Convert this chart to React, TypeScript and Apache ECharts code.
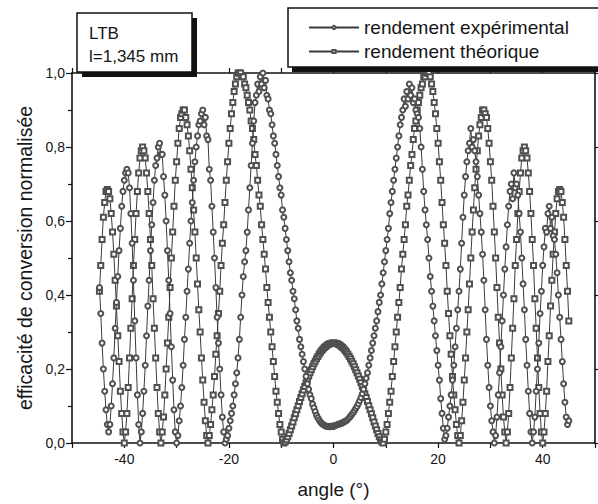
import React, { useEffect, useRef } from "react";
import * as echarts from "echarts";

// Angle grid of the scan (degrees)
const ANGLE_START = -44.75;
const ANGLE_STEP = 0.25;

// Tick labels
const xTickLabels = [-40, -20, 0, 20, 40];

// rendement expérimental (circles), from -44.75° to 45° every 0.25°
const expValues = [
  // -44.75 .. -40
  0.42, 0.35, 0.27, 0.2, 0.14, 0.09, 0.05, 0.03, 0.05, 0.1, 0.16, 0.23, 0.31, 0.38, 0.45, 0.52, 0.58, 0.64, 0.68, 0.71,
  // -39.75 .. -35
  0.73, 0.74, 0.73, 0.69, 0.62, 0.54, 0.44, 0.33, 0.23, 0.13, 0.05, 0, 0.03, 0.08, 0.14, 0.21, 0.29, 0.37, 0.44, 0.52,
  // -34.75 .. -30
  0.59, 0.65, 0.71, 0.75, 0.77, 0.8, 0.81, 0.78, 0.78, 0.72, 0.67, 0.6, 0.52, 0.44, 0.35, 0.26, 0.17, 0.09, 0.03, 0,
  // -29.75 .. -25
  0.02, 0.06, 0.1, 0.15, 0.21, 0.28, 0.34, 0.41, 0.47, 0.54, 0.6, 0.65, 0.71, 0.76, 0.8, 0.83, 0.86, 0.87, 0.89, 0.9,
  // -24.75 .. -20.75
  0.86, 0.88, 0.83, 0.82, 0.74, 0.71, 0.64, 0.57, 0.5, 0.42, 0.34, 0.27, 0.2, 0.13, 0.07, 0.03, 0,
  // -20.5 .. -15
  0.01, 0.02, 0.04, 0.06, 0.08, 0.1, 0.13, 0.16, 0.19, 0.23, 0.28, 0.34, 0.4, 0.45, 0.49, 0.52, 0.57, 0.63, 0.69, 0.75, 0.81, 0.87, 0.92,
  // -14.75 .. -10
  0.94, 0.97, 0.95, 0.99, 0.97, 1.0, 0.96, 0.98, 0.94, 0.93, 0.9, 0.89, 0.86, 0.83, 0.81, 0.78, 0.75, 0.72, 0.69, 0.67,
  // -9.75 .. -5
  0.63, 0.61, 0.58, 0.55, 0.52, 0.49, 0.46, 0.44, 0.41, 0.39, 0.36, 0.33, 0.31, 0.28, 0.26, 0.24, 0.22, 0.2, 0.18, 0.16,
  // -4.75 .. 0
  0.145, 0.13, 0.12, 0.105, 0.095, 0.085, 0.075, 0.068, 0.062, 0.057, 0.053, 0.05, 0.048, 0.046, 0.045, 0.045, 0.044, 0.045, 0.046, 0.045,
  // 0.25 .. 5
  0.047, 0.048, 0.05, 0.051, 0.052, 0.053, 0.055, 0.057, 0.059, 0.061, 0.064, 0.068, 0.072, 0.077, 0.082, 0.087, 0.093, 0.099, 0.106, 0.114,
  // 5.25 .. 10
  0.123, 0.133, 0.145, 0.16, 0.175, 0.19, 0.21, 0.23, 0.25, 0.27, 0.29, 0.31, 0.33, 0.355, 0.38, 0.4, 0.43, 0.46, 0.49, 0.52,
  // 10.25 .. 15
  0.55, 0.58, 0.62, 0.65, 0.68, 0.71, 0.74, 0.77, 0.8, 0.83, 0.86, 0.88, 0.9, 0.93, 0.91, 0.95, 0.93, 0.97, 0.94, 0.96,
  // 15.25 .. 20
  0.92, 0.93, 0.9, 0.89, 0.88, 0.85, 0.8, 0.74, 0.68, 0.63, 0.59, 0.55, 0.5, 0.45, 0.41, 0.37, 0.33, 0.29, 0.25, 0.21,
  // 20.25 .. 25
  0.17, 0.12, 0.08, 0.04, 0.01, 0.02, 0.04, 0.07, 0.1, 0.13, 0.17, 0.21, 0.26, 0.31, 0.36, 0.41, 0.47, 0.54, 0.61, 0.67,
  // 25.25 .. 30
  0.72, 0.76, 0.79, 0.81, 0.85, 0.8, 0.82, 0.79, 0.76, 0.72, 0.67, 0.62, 0.57, 0.51, 0.44, 0.36, 0.28, 0.21, 0.15, 0.1,
  // 30.25 .. 35
  0.06, 0.03, 0, 0.02, 0.07, 0.13, 0.19, 0.26, 0.33, 0.4, 0.47, 0.53, 0.59, 0.64, 0.68, 0.7, 0.66, 0.73, 0.69, 0.7,
  // 35.25 .. 40
  0.67, 0.62, 0.57, 0.5, 0.43, 0.36, 0.28, 0.21, 0.14, 0.08, 0.03, 0, 0.03, 0.07, 0.14, 0.2, 0.27, 0.35, 0.41, 0.48,
  // 40.25 .. 45
  0.53, 0.58, 0.57, 0.62, 0.64, 0.58, 0.61, 0.56, 0.55, 0.51, 0.46, 0.4, 0.34, 0.28, 0.22, 0.16, 0.11, 0.07, 0.05, 0.06,
];

// rendement théorique (squares), from -44.75° to 45° every 0.25°
const theoValues = [
  // -44.75 .. -40
  0.41, 0.48, 0.55, 0.61, 0.65, 0.68, 0.685, 0.68, 0.66, 0.62, 0.57, 0.51, 0.44, 0.37, 0.29, 0.22, 0.14, 0.08, 0.03, 0,
  // -39.75 .. -35
  0.03, 0.08, 0.15, 0.23, 0.31, 0.39, 0.48, 0.55, 0.62, 0.68, 0.73, 0.77, 0.79, 0.8, 0.79, 0.77, 0.73, 0.68, 0.62, 0.55,
  // -34.75 .. -30
  0.48, 0.39, 0.31, 0.23, 0.15, 0.08, 0.03, 0, 0.03, 0.07, 0.13, 0.2, 0.27, 0.34, 0.42, 0.5, 0.57, 0.64, 0.71, 0.76,
  // -29.75 .. -25
  0.81, 0.85, 0.88, 0.89, 0.9, 0.9, 0.88, 0.86, 0.83, 0.79, 0.74, 0.69, 0.63, 0.57, 0.5, 0.43, 0.36, 0.3, 0.23, 0.17,
  // -24.75 .. -20
  0.11, 0.06, 0.02, 0, 0.02, 0.05, 0.09, 0.13, 0.18, 0.24, 0.29, 0.35, 0.41, 0.48, 0.54, 0.59, 0.65, 0.71, 0.76, 0.81,
  // -19.75 .. -15
  0.85, 0.89, 0.92, 0.95, 0.97, 0.99, 1, 1, 1, 0.99, 0.99, 0.97, 0.96, 0.94, 0.92, 0.9, 0.87, 0.85, 0.82, 0.78,
  // -14.75 .. -10
  0.75, 0.71, 0.67, 0.64, 0.59, 0.55, 0.51, 0.47, 0.42, 0.38, 0.34, 0.3, 0.26, 0.22, 0.18, 0.14, 0.11, 0.08, 0.05, 0.03,
  // -9.75 .. -5
  0.01, 0, 0.003, 0.009, 0.017, 0.026, 0.036, 0.046, 0.057, 0.068, 0.079, 0.09, 0.101, 0.112, 0.123, 0.133, 0.143, 0.153, 0.163, 0.172,
  // -4.75 .. -0.25
  0.181, 0.19, 0.198, 0.206, 0.214, 0.221, 0.228, 0.234, 0.24, 0.245, 0.25, 0.254, 0.258, 0.261, 0.264, 0.266, 0.268, 0.269, 0.27,
  // 0 .. 4.75
  0.27, 0.27, 0.269, 0.268, 0.266, 0.264, 0.261, 0.258, 0.254, 0.25, 0.245, 0.24, 0.234, 0.228, 0.221, 0.214, 0.206, 0.198, 0.19, 0.181,
  // 5 .. 9.75
  0.172, 0.163, 0.153, 0.143, 0.133, 0.123, 0.112, 0.101, 0.09, 0.079, 0.068, 0.057, 0.046, 0.036, 0.026, 0.017, 0.009, 0.003, 0, 0.01,
  // 10 .. 14.75
  0.03, 0.05, 0.08, 0.11, 0.14, 0.18, 0.22, 0.26, 0.3, 0.34, 0.38, 0.42, 0.47, 0.51, 0.55, 0.59, 0.64, 0.67, 0.71, 0.75,
  // 15 .. 19.75
  0.78, 0.82, 0.85, 0.87, 0.9, 0.92, 0.94, 0.96, 0.97, 0.99, 0.99, 1, 1, 1, 0.99, 0.97, 0.95, 0.92, 0.89, 0.85,
  // 20 .. 24.75
  0.81, 0.76, 0.71, 0.65, 0.59, 0.54, 0.48, 0.41, 0.35, 0.29, 0.24, 0.18, 0.13, 0.09, 0.05, 0.02, 0, 0.02, 0.06, 0.11,
  // 25 .. 29.75
  0.17, 0.23, 0.3, 0.36, 0.43, 0.5, 0.57, 0.63, 0.69, 0.74, 0.79, 0.83, 0.86, 0.88, 0.9, 0.9, 0.89, 0.88, 0.85, 0.81,
  // 30 .. 34.75
  0.76, 0.71, 0.64, 0.57, 0.5, 0.42, 0.34, 0.27, 0.2, 0.13, 0.07, 0.03, 0, 0.03, 0.08, 0.15, 0.23, 0.31, 0.39, 0.48,
  // 35 .. 39.75
  0.55, 0.62, 0.68, 0.73, 0.77, 0.79, 0.8, 0.79, 0.77, 0.73, 0.68, 0.62, 0.55, 0.48, 0.39, 0.31, 0.23, 0.15, 0.08, 0.03,
  // 40 .. 44.75
  0, 0.03, 0.08, 0.14, 0.22, 0.29, 0.37, 0.44, 0.51, 0.57, 0.62, 0.66, 0.68, 0.685, 0.68, 0.65, 0.61, 0.55, 0.48, 0.41,
  // 45
  0.33,
];

const EXP_NAME = "rendement expérimental";
const THEO_NAME = "rendement théorique";
const INFO_LINES = ["LTB", "l=1,345 mm"];

const FONT = "'Liberation Sans', Arial, sans-serif";
const INK = "#161616";
const MARK = "#505050";

const toPairs = (vals: number[]) => vals.map((v, i) => [ANGLE_START + i * ANGLE_STEP, v]);

export default function App() {
  const ref = useRef<HTMLDivElement | null>(null);
  useEffect(() => {
    if (!ref.current) return;
    const chart = echarts.init(ref.current, undefined, { renderer: "svg" });
    const axisLine = { show: true, onZero: false, lineStyle: { color: "#111", width: 1.6 } };
    const tickStyle = { color: "#111", width: 1.2 };
    chart.setOption({
      animation: false,
      backgroundColor: "#fff",
      textStyle: { fontFamily: FONT },
      grid: { left: 72, top: 73, right: 1, bottom: 59, containLabel: false },
      legend: {
        data: [EXP_NAME, THEO_NAME],
        orient: "vertical",
        left: 308,
        top: 18,
        padding: 0,
        itemWidth: 50,
        itemHeight: 4,
        itemGap: 5,
        textStyle: { fontSize: 19, color: INK, fontFamily: FONT, lineHeight: 19 },
        z: 20,
      },
      xAxis: [
        {
          type: "value",
          position: "bottom",
          min: -50,
          max: 50,
          interval: 10,
          axisLine,
          axisTick: { show: true, inside: false, length: 5, lineStyle: tickStyle },
          axisLabel: {
            fontSize: 14,
            color: INK,
            margin: 9,
            fontFamily: FONT,
            formatter: (v: number) => (xTickLabels.includes(v) ? String(v) : ""),
          },
          splitLine: { show: false },
          name: "angle (°)",
          nameLocation: "middle",
          nameGap: 37,
          nameTextStyle: { fontSize: 19, color: INK, fontFamily: FONT },
        },
        {
          type: "value",
          position: "top",
          min: -50,
          max: 50,
          interval: 10,
          axisLine,
          axisTick: { show: true, inside: false, length: 5, lineStyle: tickStyle },
          axisLabel: { show: false },
          splitLine: { show: false },
        },
      ],
      yAxis: [
        {
          type: "value",
          position: "left",
          min: 0,
          max: 1,
          interval: 0.2,
          axisLine,
          axisTick: { show: true, inside: false, length: 6, lineStyle: tickStyle },
          minorTick: { show: true, splitNumber: 2, length: 4, lineStyle: tickStyle },
          axisLabel: {
            fontSize: 14,
            color: INK,
            margin: 7,
            fontFamily: FONT,
            formatter: (v: number) => v.toFixed(1).replace(".", ","),
          },
          splitLine: { show: false },
          minorSplitLine: { show: false },
          name: "efficacité de conversion normalisée",
          nameLocation: "middle",
          nameRotate: 90,
          nameGap: 33,
          nameTextStyle: { fontSize: 19.5, color: INK, fontFamily: FONT },
        },
        {
          type: "value",
          position: "right",
          min: 0,
          max: 1,
          interval: 0.2,
          axisLine,
          axisTick: { show: true, inside: false, length: 6, lineStyle: tickStyle },
          axisLabel: { show: false },
          splitLine: { show: false },
        },
      ],
      graphic: [
        // legend box with shadow
        { type: "rect", z: 10, shape: { x: 292, y: 12, width: 330, height: 60 }, style: { fill: "#111" } },
        { type: "rect", z: 11, shape: { x: 288, y: 8, width: 330, height: 59 }, style: { fill: "#fff", stroke: "#111", lineWidth: 1.5 } },
        // info box with shadow
        { type: "rect", z: 10, shape: { x: 82, y: 18, width: 115, height: 59 }, style: { fill: "#111" } },
        { type: "rect", z: 11, shape: { x: 77, y: 13, width: 115, height: 59 }, style: { fill: "#fff", stroke: "#111", lineWidth: 1.5 } },
        { type: "text", z: 12, x: 89, y: 33, style: { text: INFO_LINES[0], font: `17px ${FONT}`, fill: INK, verticalAlign: "middle" } },
        { type: "text", z: 12, x: 89, y: 56, style: { text: INFO_LINES[1], font: `17px ${FONT}`, fill: INK, verticalAlign: "middle" } },
      ],
      series: [
        {
          name: THEO_NAME,
          type: "line",
          data: toPairs(theoValues),
          symbol: "emptyRect",
          symbolSize: 5,
          itemStyle: { color: MARK, borderWidth: 1 },
          lineStyle: { color: "#3a3a3a", width: 1 },
          z: 3,
        },
        {
          name: EXP_NAME,
          type: "line",
          data: toPairs(expValues),
          symbol: "emptyCircle",
          symbolSize: 5,
          itemStyle: { color: MARK, borderWidth: 1 },
          lineStyle: { color: "#3a3a3a", width: 1 },
          z: 4,
        },
      ],
    });
    return () => chart.dispose();
  }, []);
  return <div ref={ref} style={{ position: "fixed", left: 0, top: 0, width: 598, height: 504 }} />;
}
